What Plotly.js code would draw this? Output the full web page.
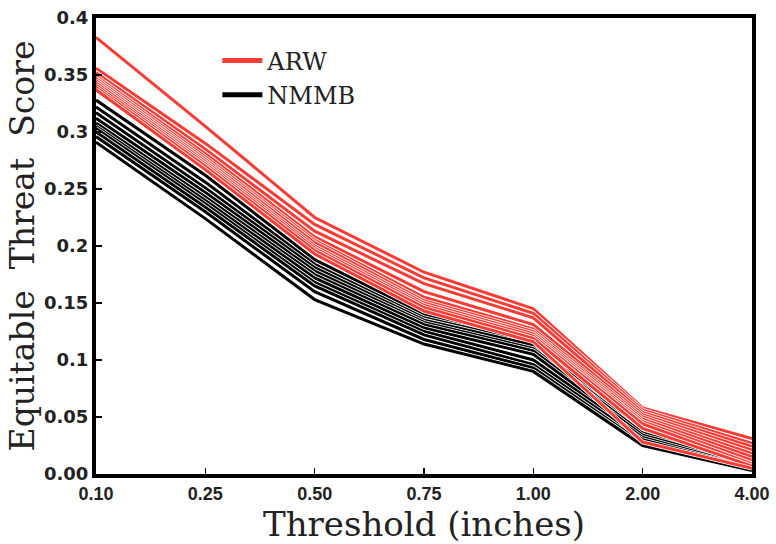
<!DOCTYPE html>
<html>
<head>
<meta charset="utf-8">
<script src="https://cdn.plot.ly/plotly-3.0.1.min.js"></script>
<style>html,body{margin:0;padding:0;background:#fff}#chart{width:776px;height:544px}</style>
</head>
<body>
<div id="chart"></div>
<script>
// Threshold categories (inches)
const categories = ['0.10','0.25','0.50','0.75','1.00','2.00','4.00'];

// ARW ensemble members (Equitable Threat Score)
const arw01 = [0.383, 0.305, 0.225, 0.177, 0.145, 0.058, 0.031];
const arw02 = [0.356, 0.290, 0.219, 0.172, 0.141, 0.056, 0.027];
const arw03 = [0.352, 0.285, 0.213, 0.167, 0.137, 0.054, 0.024];
const arw04 = [0.349, 0.281, 0.208, 0.160, 0.131, 0.052, 0.021];
const arw05 = [0.347, 0.278, 0.205, 0.155, 0.127, 0.050, 0.018];
const arw06 = [0.345, 0.276, 0.203, 0.152, 0.125, 0.048, 0.015];
const arw07 = [0.343, 0.274, 0.200, 0.150, 0.123, 0.046, 0.012];
const arw08 = [0.341, 0.272, 0.198, 0.148, 0.121, 0.044, 0.009];
const arw09 = [0.339, 0.270, 0.196, 0.146, 0.119, 0.040, 0.007];
const arw10 = [0.337, 0.267, 0.193, 0.143, 0.116, 0.028, 0.005];

// NMMB ensemble members
const nmmb01 = [0.328, 0.262, 0.188, 0.140, 0.118, 0.046, 0.020];
const nmmb02 = [0.322, 0.256, 0.184, 0.137, 0.115, 0.043, 0.017];
const nmmb03 = [0.317, 0.251, 0.181, 0.135, 0.113, 0.040, 0.014];
const nmmb04 = [0.312, 0.247, 0.178, 0.133, 0.110, 0.038, 0.012];
const nmmb05 = [0.308, 0.243, 0.175, 0.131, 0.108, 0.036, 0.010];
const nmmb06 = [0.305, 0.240, 0.172, 0.128, 0.105, 0.034, 0.008];
const nmmb07 = [0.303, 0.237, 0.168, 0.125, 0.100, 0.032, 0.006];
const nmmb08 = [0.300, 0.234, 0.165, 0.122, 0.096, 0.030, 0.005];
const nmmb09 = [0.296, 0.230, 0.160, 0.118, 0.093, 0.027, 0.004];
const nmmb10 = [0.291, 0.224, 0.153, 0.114, 0.090, 0.025, 0.003];

const yTickVals = [0, 0.05, 0.1, 0.15, 0.2, 0.25, 0.3, 0.35, 0.4];
const yTickText = ['0.00','0.05','0.1','0.15','0.2','0.25','0.3','0.35','0.4'];

const arwMembers = [arw01, arw02, arw03, arw04, arw05, arw06, arw07, arw08, arw09, arw10];
const nmmbMembers = [nmmb01, nmmb02, nmmb03, nmmb04, nmmb05, nmmb06, nmmb07, nmmb08, nmmb09, nmmb10];

const RED = '#f93b35';
const traces = [];
function addGroup(members, color, name, rank) {
  members.forEach((vals, i) => {
    traces.push({x: categories, y: vals, type: 'scatter', mode: 'lines',
      line: {color: '#ffffff', width: 4.6}, showlegend: false, hoverinfo: 'skip'});
    traces.push({x: categories, y: vals, type: 'scatter', mode: 'lines',
      line: {color: color, width: 3}, name: name, showlegend: false});
  });
}
addGroup(nmmbMembers, '#000000', 'NMMB', 2);
addGroup(arwMembers, RED, 'ARW', 1);

// legend entries (thicker keys, no visible data)
traces.push({x: [null], y: [null], type: 'scatter', mode: 'lines',
  line: {color: RED, width: 5}, name: 'ARW', legendrank: 1});
traces.push({x: [null], y: [null], type: 'scatter', mode: 'lines',
  line: {color: '#000000', width: 5}, name: 'NMMB', legendrank: 2});

const layout = {
  width: 776, height: 544,
  margin: {l: 96, r: 24, t: 18, b: 70},
  paper_bgcolor: '#ffffff', plot_bgcolor: '#ffffff',
  showlegend: true,
  legend: {x: 0.185, y: 0.955, xanchor: 'left', yanchor: 'top',
    bgcolor: 'rgba(0,0,0,0)', borderwidth: 0,
    font: {family: 'DejaVu Serif', size: 24, color: '#222'},
    itemwidth: 40, tracegroupgap: 0},
  xaxis: {
    type: 'category', range: [0, 6],
    showline: true, mirror: true, linewidth: 4, linecolor: '#000',
    ticks: 'inside', ticklen: 6, tickwidth: 1.5, tickcolor: '#000',
    showgrid: false, zeroline: false,
    tickfont: {family: 'Liberation Sans', size: 18, color: '#222', weight: 'bold'},
    title: {text: 'Threshold (inches)', standoff: 2,
      font: {family: 'DejaVu Serif', size: 34, color: '#222'}}
  },
  yaxis: {
    range: [0, 0.4],
    tickvals: yTickVals, ticktext: yTickText,
    showline: true, mirror: true, linewidth: 4, linecolor: '#000',
    ticks: 'inside', ticklen: 6, tickwidth: 1.5, tickcolor: '#000',
    showgrid: false, zeroline: false,
    tickfont: {family: 'DejaVu Sans', size: 18, color: '#222', weight: 'bold'},
    title: {text: 'Equitable  Threat  Score', standoff: 0,
      font: {family: 'DejaVu Serif', size: 33, color: '#222'}}
  }
};

Plotly.newPlot('chart', traces, layout, {staticPlot: true, displayModeBar: false});
</script>
</body>
</html>
